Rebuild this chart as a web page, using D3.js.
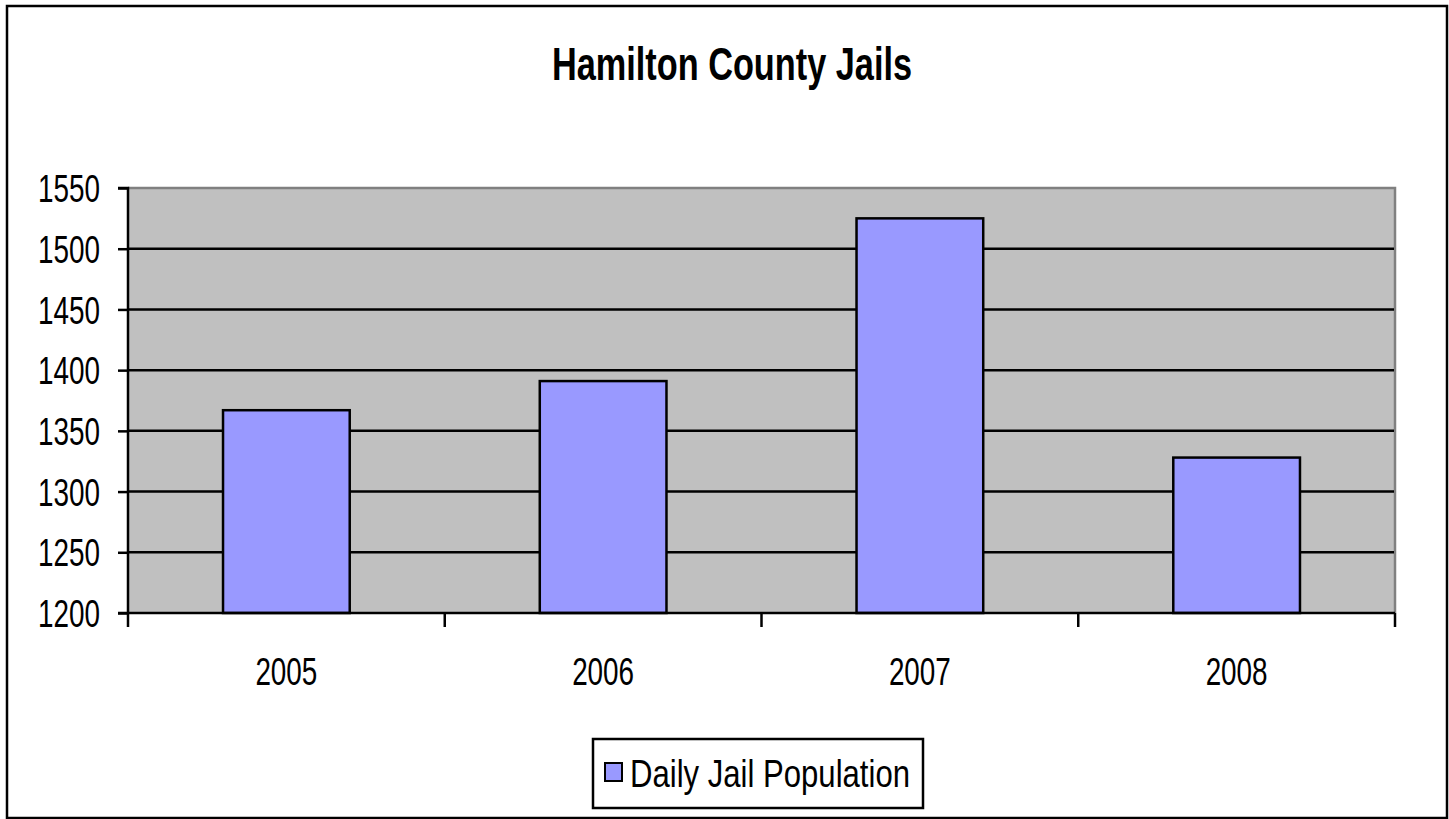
<!DOCTYPE html>
<html>
<head>
<meta charset="utf-8">
<script src="https://cdn.jsdelivr.net/npm/d3@7"></script>
<style>
html,body{margin:0;padding:0;background:#fff;}
svg{display:block;}
text{font-family:"Liberation Sans",Arial,sans-serif;fill:#000;}
</style>
</head>
<body>
<svg id="chart" width="1449" height="819"></svg>
<script>
const title = "Hamilton County Jails";
const categories = ["2005", "2006", "2007", "2008"];
const values = [1367, 1391, 1525, 1328];
const seriesName = "Daily Jail Population";
const yTicks = [1200, 1250, 1300, 1350, 1400, 1450, 1500, 1550];

const svg = d3.select("#chart");
const plot = {left: 128, right: 1395, top: 188, bottom: 613};

// outer frame
svg.append("rect").attr("x", 7).attr("y", 6).attr("width", 1440).attr("height", 812)
  .attr("fill", "#fff").attr("stroke", "#000").attr("stroke-width", 2.5);

// title
svg.append("text").attr("x", 732).attr("y", 80).attr("text-anchor", "middle")
  .attr("font-weight", "bold").attr("font-size", 47)
  .attr("textLength", 360).attr("lengthAdjust", "spacingAndGlyphs").text(title);

const x = d3.scaleBand().domain(categories).range([plot.left, plot.right]).padding(0);
const y = d3.scaleLinear().domain([1200, 1550]).range([plot.bottom, plot.top]);

// plot background
svg.append("rect").attr("x", plot.left).attr("y", plot.top)
  .attr("width", plot.right - plot.left).attr("height", plot.bottom - plot.top)
  .attr("fill", "#c0c0c0");
// top & right gray border
svg.append("path").attr("d", `M${plot.left},${plot.top}H${plot.right}V${plot.bottom}`)
  .attr("fill", "none").attr("stroke", "#808080").attr("stroke-width", 2.5);

// gridlines
svg.append("g").selectAll("line").data(yTicks.filter(t => t > 1200 && t < 1550)).join("line")
  .attr("x1", plot.left).attr("x2", plot.right - 1)
  .attr("y1", d => y(d)).attr("y2", d => y(d))
  .attr("stroke", "#000").attr("stroke-width", 2.5);

// bars
const bw = x.bandwidth() * 0.4;
svg.append("g").selectAll("rect").data(values).join("rect")
  .attr("x", (d, i) => x(categories[i]) + x.bandwidth() / 2 - bw / 2)
  .attr("y", d => y(d))
  .attr("width", bw)
  .attr("height", d => y(1200) - y(d))
  .attr("fill", "#9999ff").attr("stroke", "#000").attr("stroke-width", 2.5);

// y axis
const yAxis = d3.axisLeft(y).tickValues(yTicks).tickSize(10).tickFormat(d3.format("d"));
const gy = svg.append("g").attr("transform", `translate(${plot.left},0)`).call(yAxis);
gy.select(".domain").attr("stroke", "#000").attr("stroke-width", 2.5).attr("d", `M-10,${plot.top}H0V${plot.bottom}`);
gy.selectAll(".tick line").attr("stroke", "#000").attr("stroke-width", 2.5);
gy.selectAll(".tick text").attr("font-size", 38).attr("x", -28).attr("dy", "0.36em")
  .attr("textLength", 62).attr("lengthAdjust", "spacingAndGlyphs")
  .style("font-family", '"Liberation Sans",Arial,sans-serif').attr("fill", "#000");

// x axis
const xBoundaries = categories.map(c => x(c)).concat([plot.right]);
const gx = svg.append("g").attr("transform", `translate(0,${plot.bottom})`);
gx.append("line").attr("x1", plot.left - 10).attr("x2", plot.right).attr("y1", 0).attr("y2", 0)
  .attr("stroke", "#000").attr("stroke-width", 2.5);
gx.selectAll("line.tk").data(xBoundaries).join("line").attr("class", "tk")
  .attr("x1", d => d).attr("x2", d => d).attr("y1", 0).attr("y2", 14)
  .attr("stroke", "#000").attr("stroke-width", 2.5);
gx.selectAll("text").data(categories).join("text")
  .attr("x", d => x(d) + x.bandwidth() / 2).attr("y", 72)
  .attr("text-anchor", "middle").attr("font-size", 38)
  .attr("textLength", 62).attr("lengthAdjust", "spacingAndGlyphs").text(d => d);

// legend
const lg = svg.append("g");
lg.append("rect").attr("x", 593).attr("y", 739).attr("width", 330).attr("height", 69)
  .attr("fill", "#fff").attr("stroke", "#000").attr("stroke-width", 2.5);
lg.append("rect").attr("x", 605).attr("y", 763).attr("width", 17).attr("height", 18)
  .attr("fill", "#9999ff").attr("stroke", "#000").attr("stroke-width", 2);
lg.append("text").attr("x", 630).attr("y", 787).attr("font-size", 38)
  .attr("textLength", 280).attr("lengthAdjust", "spacingAndGlyphs").text(seriesName);
</script>
</body>
</html>
